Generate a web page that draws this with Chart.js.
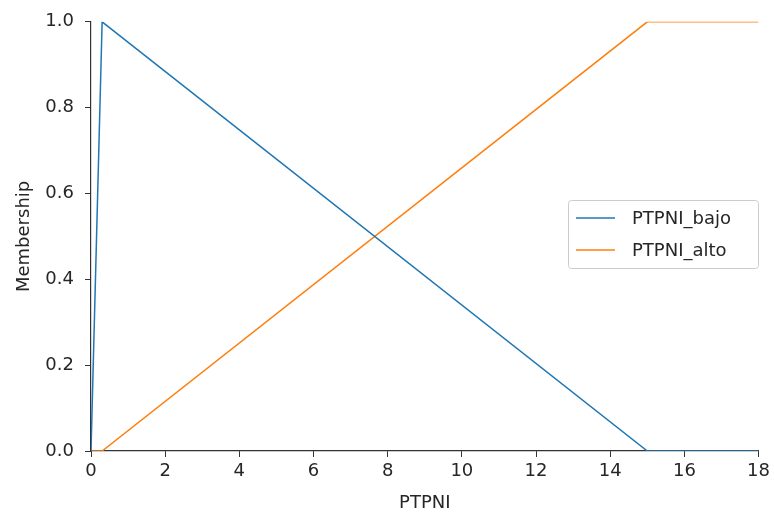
<!DOCTYPE html>
<html>
<head>
<meta charset="utf-8">
<script src="https://cdn.jsdelivr.net/npm/chart.js@4"></script>
<style>
  body { margin: 0; background: #fff; }
  #wrap { width: 774px; height: 518px; }
</style>
</head>
<body>
<div id="wrap"><canvas id="chart" width="774" height="518"></canvas></div>
<script>
// membership functions (x, y)
var bajoX = [0, 0.3, 15, 18];
var bajoY = [0, 1, 0, 0];
var altoX = [0, 0.3, 15, 18];
var altoY = [0, 0, 1, 1];
var labels = ['PTPNI_bajo', 'PTPNI_alto'];
var colors = ['#1f77b4', '#ff7f0e'];

function pts(xs, ys) {
    var out = [];
    for (let i = 0; i < xs.length; i++) out.push({x: xs[i], y: ys[i]});
    return out;
}

var font = {family: 'DejaVu Sans', size: 18};

// legend drawn inside the plot, like matplotlib's "center right"
var boxLegend = {
    id: 'boxLegend',
    afterDraw: function(chart) {
        var ctx = chart.ctx;
        var x0 = 568, y0 = 200, w = 190, h = 68;
        ctx.save();
        ctx.fillStyle = 'rgba(255,255,255,0.8)';
        ctx.strokeStyle = '#cccccc';
        ctx.lineWidth = 1;
        ctx.beginPath();
        ctx.roundRect(x0 + 0.5, y0 + 0.5, w, h, 3);
        ctx.fill();
        ctx.stroke();
        ctx.font = '18px "DejaVu Sans"';
        ctx.textBaseline = 'middle';
        chart.data.datasets.forEach(function(ds, i) {
            var yy = y0 + 18 + i * 32;
            ctx.strokeStyle = ds.borderColor;
            ctx.lineWidth = 1.5;
            ctx.beginPath();
            ctx.moveTo(x0 + 8, yy);
            ctx.lineTo(x0 + 47, yy);
            ctx.stroke();
            ctx.fillStyle = '#262626';
            ctx.fillText(ds.label, x0 + 64, yy + 1);
        });
        ctx.restore();
    }
};

var myChart = new Chart('chart', {
    type: 'line',
    data: {
        datasets: [{
            label: labels[0],
            data: pts(bajoX, bajoY),
            borderColor: colors[0],
            borderWidth: 1.5,
            pointRadius: 0,
            tension: 0
        }, {
            label: labels[1],
            data: pts(altoX, altoY),
            borderColor: colors[1],
            borderWidth: 1.5,
            pointRadius: 0,
            tension: 0
        }]
    },
    options: {
        responsive: false,
        animation: false,
        layout: {padding: {top: 20, right: 15, left: 0, bottom: 0}},
        plugins: {
            legend: {display: false},
            tooltip: {enabled: false}
        },
        scales: {
            x: {
                type: 'linear',
                min: 0,
                max: 18,
                afterFit: function(s) { s.height = 67; },
                ticks: {stepSize: 2, color: '#262626', font: font, padding: 4, maxRotation: 0},
                grid: {drawOnChartArea: false, drawTicks: true, tickLength: 6, color: '#333'},
                border: {display: true, color: '#333', width: 1.2},
                title: {display: true, text: 'PTPNI', color: '#262626', font: font, padding: {top: 0}}
            },
            y: {
                min: 0,
                max: 1,
                afterFit: function(s) { s.width = 91; },
                ticks: {
                    stepSize: 0.2, color: '#262626', font: font, padding: 11,
                    callback: function(v) { return v.toFixed(1); }
                },
                grid: {drawOnChartArea: false, drawTicks: true, tickLength: 6, color: '#333'},
                border: {display: true, color: '#333', width: 1.2},
                title: {display: true, text: 'Membership', color: '#262626', font: font, padding: {top: 14, bottom: 0}}
            }
        }
    },
    plugins: [boxLegend]
});
</script>
</body>
</html>
